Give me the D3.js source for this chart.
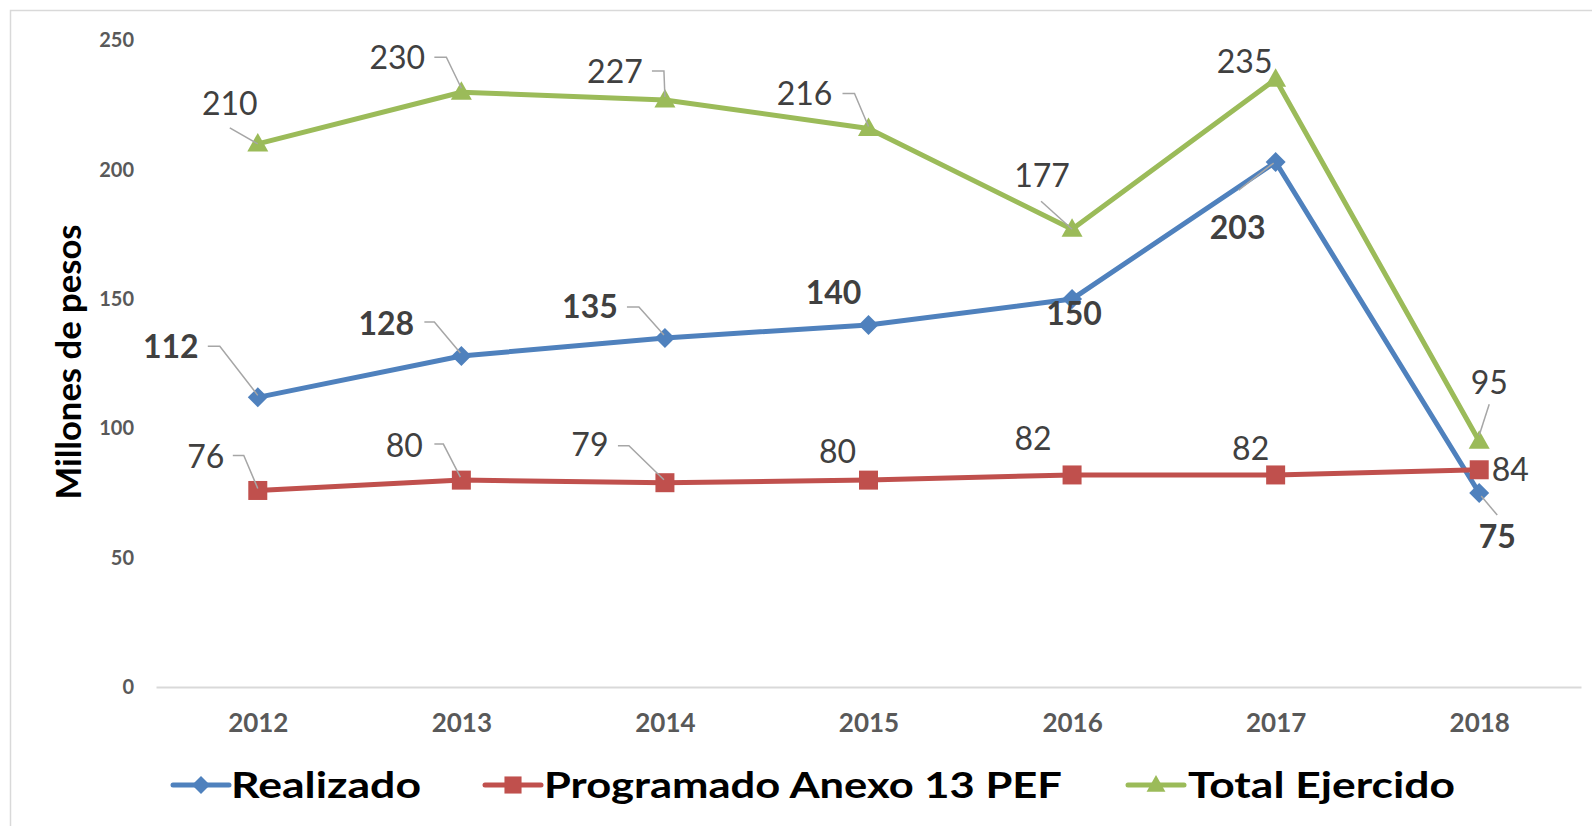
<!DOCTYPE html>
<html>
<head>
<meta charset="utf-8">
<script src="https://cdn.jsdelivr.net/npm/d3@7"></script>
<style>
  html, body { margin: 0; padding: 0; background: #fff; }
  svg { display: block; font-family: Lato, "Open Sans", sans-serif; }
</style>
</head>
<body>
<div id="chart"></div>
<script>
// data
const years = ['2012', '2013', '2014', '2015', '2016', '2017', '2018'];
const realizado = [112, 128, 135, 140, 150, 203, 75];
const programado = [76, 80, 79, 80, 82, 82, 84];
const totalEjercido = [210, 230, 227, 216, 177, 235, 95];
const yTicks = [0, 50, 100, 150, 200, 250];

// label placement (offset of text centre from the point, plus leader path ending at the point)
const realizadoLabels = [
    [-87, -51, [[-50, -51], [-38, -51], [0, -2]]],
    [-75, -33, [[-37, -34], [-27, -34], [-1, -3]]],
    [-75, -31, [[-38, -31], [-26, -31], [-1, -3]]],
    [-35, -32, null],
    [2, 14, null],
    [-38, 65, [[-37, 28], [-2, 1]]],
    [18, 43, [[18, 22], [2, 3]]]
];
const programadoLabels = [
    [-52, -34, [[-25, -35], [-14, -35], [0, -2]]],
    [-57, -35, [[-27, -36], [-18, -36], [-1, -3]]],
    [-75, -38, [[-47, -37], [-36, -37], [-1, -3]]],
    [-31, -29, null],
    [-39, -36, null],
    [-25, -26, null],
    [31, 0, null]
];
const totalLabels = [
    [-28, -40, [[-28, -16], [0, 0]]],
    [-64, -35, [[-27, -35], [-15, -35], [0, -4]]],
    [-50, -28, [[-13, -29], [-1, -29], [0, -3]]],
    [-64, -35, [[-26, -35], [-14, -35], [0, -2]]],
    [-30, -54, [[-31, -28], [0, 0]]],
    [-31, -18, null],
    [10, -59, [[10, -37], [0, -6]]]
];

const W = 1592, H = 826;
const svg = d3.select('#chart').append('svg').attr('width', W).attr('height', H);

// outer frame (right and bottom edges fall outside the picture)
svg.append('rect')
    .attr('x', 10.5).attr('y', 10.5)
    .attr('width', W + 20).attr('height', H + 20)
    .attr('fill', 'none').attr('stroke', '#d9d9d9').attr('stroke-width', 1.5);

const x = d3.scalePoint().domain(years).range([156, 1581]).padding(0.5);
const y = d3.scaleLinear().domain([0, 250]).range([687, 40.5]);

// y axis
const yAxis = svg.append('g')
    .attr('transform', 'translate(134,0)')
    .call(d3.axisLeft(y).tickValues(yTicks).tickSize(0).tickPadding(0));
yAxis.select('.domain').remove();
yAxis.selectAll('text')
    .attr('font-family', 'Lato, sans-serif')
    .attr('font-size', 20).attr('font-weight', 'bold').attr('fill', '#595959');

// x axis
const xAxis = svg.append('g')
    .attr('transform', 'translate(0,687)')
    .call(d3.axisBottom(x).tickSize(0).tickPadding(0));
xAxis.select('.domain').attr('stroke', '#d9d9d9').attr('stroke-width', 2);
xAxis.selectAll('text')
    .attr('y', 45).attr('dy', 0)
    .attr('font-family', 'Lato, sans-serif')
    .attr('font-size', 26).attr('font-weight', 'bold').attr('fill', '#595959');

// axis title
svg.append('text')
    .attr('transform', 'translate(69,362) rotate(-90)')
    .attr('text-anchor', 'middle').attr('dy', '0.35em')
    .attr('font-size', 34).attr('font-weight', 'bold').attr('fill', '#000')
    .attr('textLength', 275).attr('lengthAdjust', 'spacingAndGlyphs')
    .text('Millones de pesos');

const markers = {
    diamond: 'M0,-10L10,0L0,10L-10,0Z',
    square: 'M-9.5,-9.5H9.5V9.5H-9.5Z',
    triangle: 'M0,-11L10.5,7.5H-10.5Z'
};

const series = [
    { name: 'Realizado', values: realizado, color: '#4f81bd', marker: 'diamond', bold: true, labels: realizadoLabels },
    { name: 'Programado Anexo 13 PEF', values: programado, color: '#c0504d', marker: 'square', bold: false, labels: programadoLabels },
    { name: 'Total Ejercido', values: totalEjercido, color: '#9bbb59', marker: 'triangle', bold: false, labels: totalLabels }
];

const line = d3.line().x((d, i) => x(years[i])).y(d => y(d));

series.forEach(s => {
    const g = svg.append('g');
    g.append('path')
        .datum(s.values)
        .attr('d', line)
        .attr('fill', 'none')
        .attr('stroke', s.color)
        .attr('stroke-width', 5)
        .attr('stroke-linejoin', 'round');
    g.selectAll('path.m')
        .data(s.values)
        .enter().append('path')
        .attr('class', 'm')
        .attr('d', markers[s.marker])
        .attr('transform', (d, i) => `translate(${x(years[i])},${y(d)})`)
        .attr('fill', s.color);
});

// data labels with leader lines
series.forEach(s => {
    const g = svg.append('g');
    s.values.forEach((v, i) => {
        const px = x(years[i]), py = y(v);
        const [dx, dy, leader] = s.labels[i];
        if (leader) {
            g.append('path')
                .attr('d', d3.line()(leader.map(p => [px + p[0], py + p[1]])))
                .attr('fill', 'none')
                .attr('stroke', '#a6a6a6')
                .attr('stroke-width', 1.5);
        }
        g.append('text')
            .attr('x', px + dx).attr('y', py + dy)
            .attr('dy', '0.36em')
            .attr('text-anchor', 'middle')
            .attr('font-size', 32)
            .attr('font-weight', s.bold ? 'bold' : 'normal')
            .attr('fill', '#404040')
            .text(v);
    });
});

// legend
const legendItems = [
    { lx: 173, tx: 231, tw: 190 },
    { lx: 485, tx: 544, tw: 518 },
    { lx: 1128, tx: 1188, tw: 267 }
];
const legend = svg.append('g');
series.forEach((s, i) => {
    const it = legendItems[i], ly = 785;
    legend.append('line')
        .attr('x1', it.lx).attr('x2', it.lx + 56)
        .attr('y1', ly).attr('y2', ly)
        .attr('stroke', s.color).attr('stroke-width', 5).attr('stroke-linecap', 'round');
    legend.append('path')
        .attr('d', markers[s.marker])
        .attr('transform', `translate(${it.lx + 28},${ly}) scale(0.9)`)
        .attr('fill', s.color);
    legend.append('text')
        .attr('x', it.tx).attr('y', ly).attr('dy', '0.36em')
        .attr('font-size', 36).attr('font-weight', 'bold').attr('fill', '#000')
        .attr('textLength', it.tw).attr('lengthAdjust', 'spacingAndGlyphs')
        .text(s.name);
});
</script>
</body>
</html>
